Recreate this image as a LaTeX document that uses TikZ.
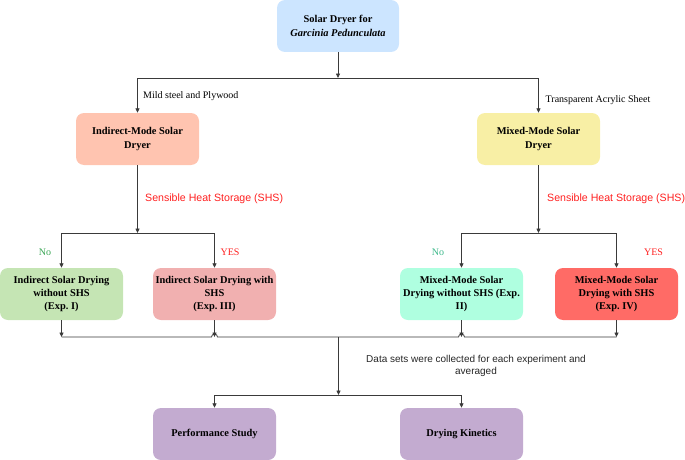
\documentclass[tikz,border=0pt]{standalone}
\usepackage{fontspec}
\setmainfont{Liberation Serif}
\newfontfamily\arialf{Liberation Sans}
\usetikzlibrary{arrows.meta}
\definecolor{cTop}{HTML}{CCE5FF}
\definecolor{cInd}{HTML}{FFC4B0}
\definecolor{cMix}{HTML}{F8EFA5}
\definecolor{cE1}{HTML}{C5E5B4}
\definecolor{cE3}{HTML}{F1B0B0}
\definecolor{cE2}{HTML}{AFFFE0}
\definecolor{cE4}{HTML}{FF6B66}
\definecolor{cOut}{HTML}{C3ABD0}
\definecolor{lineC}{HTML}{3A3A3A}
\definecolor{redT}{HTML}{FF2020}
\definecolor{greenT}{HTML}{3AA655}
\definecolor{tealT}{HTML}{3CB88A}
\frenchspacing
\begin{document}
\begin{tikzpicture}[x=1pt,y=1pt,
  box/.style={rounded corners=8pt, minimum width=123pt, minimum height=52pt, inner sep=2pt,
    align=center, font=\fontsize{10.4}{13.2}\selectfont\bfseries, draw=none},
  conn/.style={draw=lineC, line width=0.8pt},
  arr/.style={conn, -{Triangle[length=4.5pt,width=4pt]}},
  lab/.style={font=\fontsize{10}{12}\selectfont, inner sep=0pt},
  redlab/.style={font=\arialf\fontsize{10.6}{12.7}\selectfont, text=redT, inner sep=0pt}
]
\useasboundingbox (0,0) rectangle (685,-460);
% boxes
\node[box, fill=cTop, minimum width=122pt] (top) at (338,-26) {Solar Dryer for\\ \itshape Garcinia Pedunculata};
\node[box, fill=cInd] (ind) at (137.5,-139) {Indirect-Mode Solar\\Dryer};
\node[box, fill=cMix] (mix) at (538.5,-139) {Mixed-Mode Solar\\Dryer};
\node[box, fill=cE1] (e1) at (61.5,-294) {Indirect Solar Drying\\without SHS\\(Exp. I)};
\node[box, fill=cE3] (e3) at (214.5,-294) {Indirect Solar Drying with\\SHS\\(Exp. III)};
\node[box, fill=cE2] (e2) at (461.5,-294) {Mixed-Mode Solar\\Drying without SHS (Exp.\\II)};
\node[box, fill=cE4] (e4) at (616.5,-294) {Mixed-Mode Solar\\Drying with SHS\\(Exp. IV)};
\node[box, fill=cOut] (perf) at (214.5,-434) {Performance Study};
\node[box, fill=cOut] (kin) at (461.5,-434) {Drying Kinetics};
% junction coordinates
\coordinate (j0) at (338,-78);
\coordinate (jL) at (137.5,-78);
\coordinate (jR) at (538.5,-78);
\coordinate (kL) at (137.5,-233);
\coordinate (kL1) at (61.5,-233);
\coordinate (kL2) at (214.5,-233);
\coordinate (kR) at (538.5,-233);
\coordinate (kR1) at (461.5,-233);
\coordinate (kR2) at (616.5,-233);
\coordinate (m1) at (61.5,-337);
\coordinate (m3) at (214.5,-337);
\coordinate (m2) at (461.5,-337);
\coordinate (m4) at (616.5,-337);
\coordinate (mc) at (338.5,-337);
\coordinate (b0) at (338.5,-395);
\coordinate (bL) at (214.5,-395);
\coordinate (bR) at (461.5,-395);
% connectors top
\draw[arr] (top.south) -- (j0);
\draw[conn] (jL) -- (jR);
\draw[arr] (jL) -- (ind.north);
\draw[arr] (jR) -- (mix.north);
% second level
\draw[arr] (ind.south) -- (kL);
\draw[conn] (kL1) -- (kL2);
\draw[arr] (kL1) -- (e1.north);
\draw[arr] (kL2) -- (e3.north);
\draw[arr] (mix.south) -- (kR);
\draw[conn] (kR1) -- (kR2);
\draw[arr] (kR1) -- (e2.north);
\draw[arr] (kR2) -- (e4.north);
% merge
\draw[arr] (e1.south) -- (m1);
\draw[arr] (e3.south) -- (m3);
\draw[arr] (e2.south) -- (m2);
\draw[arr] (e4.south) -- (m4);
\draw[conn] (m1) -- ([xshift=-3pt]m3) arc[start angle=180,end angle=0,radius=3pt]
  -- ([xshift=-3pt]m2) arc[start angle=180,end angle=0,radius=3pt] -- (m4);
\draw[arr] (mc) -- (b0);
\draw[conn] (bL) -- (bR);
\draw[arr] (bL) -- (perf.north);
\draw[arr] (bR) -- (kin.north);
% labels
\node[lab, anchor=west] (l1) at (143,-96) {Mild steel and Plywood};
\node[lab, anchor=west] (l2) at (545.5,-100.5) {Transparent Acrylic Sheet};
\node[redlab, anchor=west] (s1) at (145,-199) {Sensible Heat Storage (SHS)};
\node[redlab, anchor=west] (s2) at (547,-199) {Sensible Heat Storage (SHS)};
\node[lab, text=greenT] (n1) at (45,-252) {No};
\node[lab, text=redT] (y1) at (230,-252) {YES};
\node[lab, text=tealT] (n2) at (438,-252) {No};
\node[lab, text=redT] (y2) at (653.5,-252) {YES};
\node[font=\arialf\fontsize{10}{12}\selectfont, align=center, inner sep=0pt, text=black!85] (ds) at (476,-366) {Data sets were collected for each experiment and\\averaged};
\end{tikzpicture}
\end{document}
